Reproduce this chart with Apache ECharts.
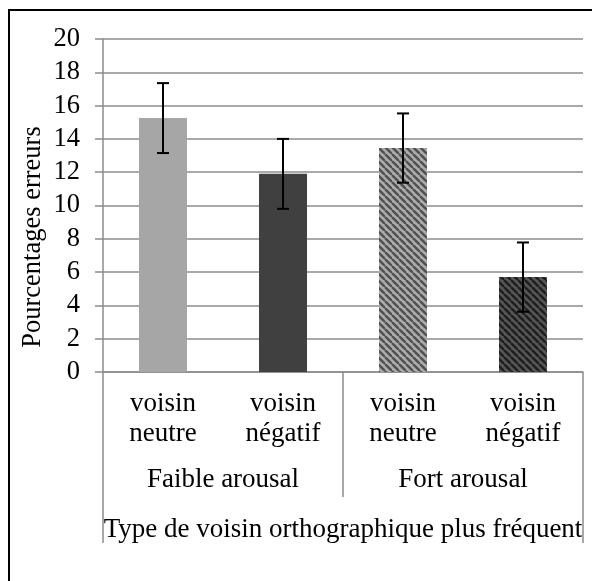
<!DOCTYPE html>
<html>
<head>
<meta charset="utf-8">
<script src="https://cdn.jsdelivr.net/npm/echarts@6/dist/echarts.min.js"></script>
<style>
html,body{margin:0;padding:0;background:#fff;}
#chart{width:592px;height:581px;}
</style>
</head>
<body>
<div id="chart"></div>
<script>
const categories = ['voisin\nneutre', 'voisin\nnégatif', 'voisin\nneutre', 'voisin\nnégatif'];
const groups = ['Faible arousal', 'Fort arousal'];
const xTitle = ['Type de voisin orthographique plus fréquent'];
const yTitle = 'Pourcentages erreurs';
const values = [15.25, 11.9, 13.45, 5.7];
const errors = [2.1, 2.1, 2.08, 2.08];
const yMin = 0, yMax = 20, yStep = 2;

const FONT = "'Liberation Serif', 'Times New Roman', serif";
const GRAY = '#8c8c8c';

function stripes(bg, fg) {
  const s = 7;
  const c = document.createElement('canvas');
  c.width = s; c.height = s;
  const g = c.getContext('2d');
  g.fillStyle = bg; g.fillRect(0, 0, s, s);
  g.strokeStyle = fg; g.lineWidth = 2.4;
  for (const o of [-s, 0, s]) {
    g.beginPath(); g.moveTo(o, 0); g.lineTo(o + s, s); g.stroke();
  }
  return { image: c, repeat: 'repeat' };
}
const fills = ['#a6a6a6', '#404040', stripes('#ababab', '#505050'), stripes('#555555', '#1e1e1e')];

const chart = echarts.init(document.getElementById('chart'), null, { renderer: 'canvas' });
chart.setOption({
  animation: false,
  backgroundColor: '#fff',
  textStyle: { fontFamily: FONT },
  grid: { left: 103, right: 9, top: 39, bottom: 209, containLabel: false },
  xAxis: [
    {
      type: 'category', data: categories, position: 'bottom',
      axisLine: { show: true, lineStyle: { color: GRAY, width: 1.5 } },
      axisTick: { show: false },
      axisLabel: { fontSize: 27, lineHeight: 30, margin: 17, color: '#000', fontFamily: FONT, interval: 0 }
    },
    {
      type: 'category', data: groups, position: 'bottom', gridIndex: 0,
      axisLine: { show: false },
      axisTick: { show: true, length: 125, lineStyle: { color: GRAY, width: 1.5 } },
      axisLabel: { fontSize: 27, lineHeight: 30, margin: 93, color: '#000', fontFamily: FONT, interval: 0 }
    },
    {
      type: 'category', data: xTitle, position: 'bottom', gridIndex: 0,
      axisLine: { show: false },
      axisTick: { show: true, length: 171, lineStyle: { color: GRAY, width: 1.5 } },
      axisLabel: { fontSize: 27, lineHeight: 30, margin: 143, color: '#000', fontFamily: FONT, interval: 0 }
    }
  ],
  yAxis: {
    type: 'value', min: yMin, max: yMax, interval: yStep,
    axisLine: { show: true, lineStyle: { color: GRAY, width: 1.5 } },
    axisTick: { show: true, length: 8, lineStyle: { color: GRAY, width: 1.5 } },
    axisLabel: { fontSize: 26.5, margin: 23, color: '#000', fontFamily: FONT },
    splitLine: { show: true, lineStyle: { color: GRAY, width: 1.5 } }
  },
  series: [
    {
      type: 'bar', xAxisIndex: 0, barWidth: '40%',
      data: values.map((v, i) => ({ value: v, itemStyle: { color: fills[i] } }))
    },
    {
      type: 'custom', xAxisIndex: 0, z: 5,
      data: values.map((v, i) => [i, v - errors[i], v + errors[i]]),
      renderItem: function (params, api) {
        const lo = api.coord([api.value(0), api.value(1)]);
        const hi = api.coord([api.value(0), api.value(2)]);
        const hw = 6;
        const st = { stroke: '#000', lineWidth: 2 };
        return {
          type: 'group',
          children: [
            { type: 'line', shape: { x1: hi[0], y1: hi[1], x2: lo[0], y2: lo[1] }, style: st },
            { type: 'line', shape: { x1: hi[0] - hw, y1: hi[1], x2: hi[0] + hw, y2: hi[1] }, style: st },
            { type: 'line', shape: { x1: lo[0] - hw, y1: lo[1], x2: lo[0] + hw, y2: lo[1] }, style: st }
          ]
        };
      }
    }
  ],
  graphic: [
    {
      type: 'rect', silent: true,
      shape: { x: 9, y: 10, width: 700, height: 700 },
      style: { fill: 'none', stroke: '#000', lineWidth: 2 }
    },
    {
      type: 'text', x: 33, y: 237, rotation: Math.PI / 2,
      style: { text: yTitle, font: "26.5px " + FONT, fill: '#000', align: 'center', verticalAlign: 'middle' }
    }
  ]
});
</script>
</body>
</html>
